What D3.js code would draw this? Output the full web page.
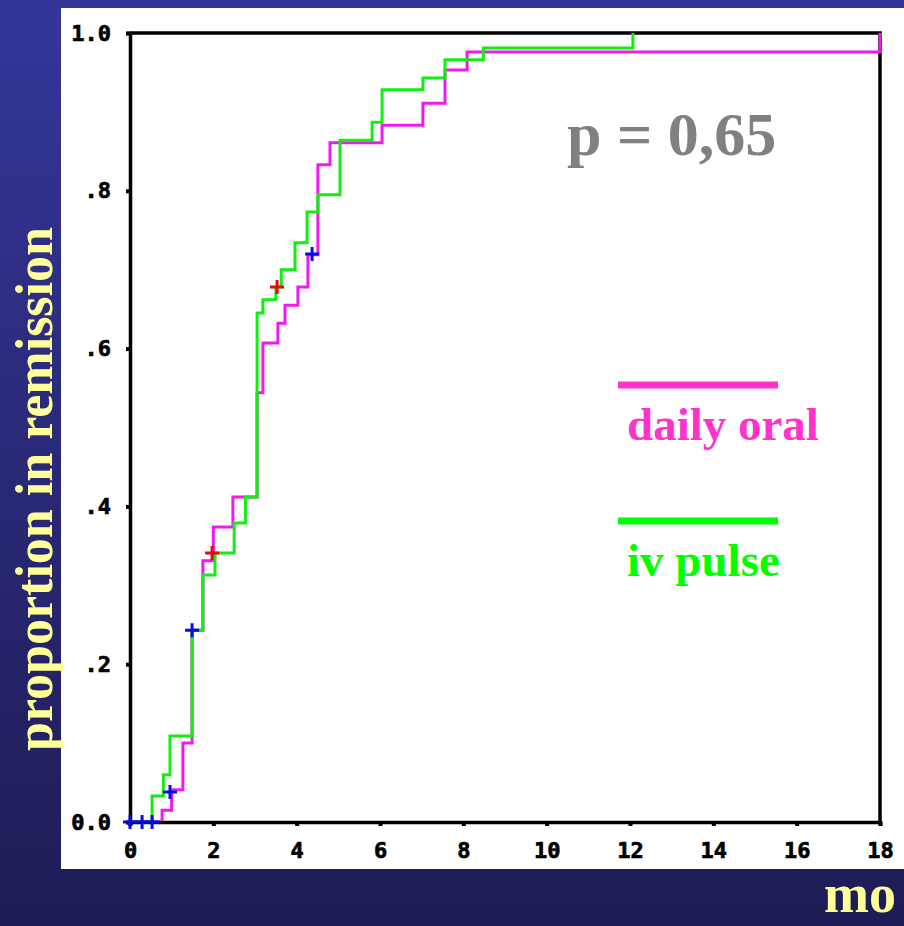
<!DOCTYPE html>
<html>
<head>
<meta charset="utf-8">
<script src="https://cdn.jsdelivr.net/npm/d3@7"></script>
<style>
  body { margin: 0; background: #1f1d57; }
  svg { display: block; }
</style>
</head>
<body>
<svg id="chart" width="904" height="926"></svg>
<script>
// Kaplan-Meier steps (months, proportion in remission)
const oralTimes = [0, 0.77, 1.0, 1.27, 1.49, 1.75, 2.0, 2.47, 3.05, 3.19, 3.55, 3.72, 4.03, 4.27, 4.51, 4.8, 6.05, 7.03, 7.56, 8.09, 18];
const oralRemission = [0, 0.015, 0.041, 0.10, 0.243, 0.331, 0.374, 0.412, 0.544, 0.607, 0.632, 0.655, 0.678, 0.719, 0.833, 0.861, 0.883, 0.911, 0.953, 0.976, 1.0];

const pulseTimes = [0, 0.53, 0.8, 0.96, 1.49, 1.75, 2.04, 2.5, 2.77, 3.05, 3.19, 3.5, 3.63, 3.96, 4.25, 4.51, 5.04, 5.81, 6.05, 7.03, 7.56, 8.48, 12.07];
const pulseRemission = [0, 0.033, 0.06, 0.109, 0.243, 0.313, 0.341, 0.379, 0.412, 0.645, 0.662, 0.678, 0.70, 0.734, 0.773, 0.795, 0.864, 0.887, 0.928, 0.943, 0.966, 0.981, 1.0];

// censored observations
const oralCensorTimes = [0, 0.29, 0.53, 0.96, 1.49, 4.37];
const oralCensorValues = [0, 0, 0, 0.038, 0.243, 0.72];
const pulseCensorTimes = [1.97, 3.53];
const pulseCensorValues = [0.341, 0.678];

const xTicks = [0, 2, 4, 6, 8, 10, 12, 14, 16, 18];
const yTicks = [0, 0.2, 0.4, 0.6, 0.8, 1.0];
const yTickLabels = ["0.0", ".2", ".4", ".6", ".8", "1.0"];

const seriesNames = ["daily oral", "iv pulse"];
const pValue = "p = 0,65";

const svg = d3.select("#chart");

// slide background
const defs = svg.append("defs");
const grad = defs.append("linearGradient").attr("id", "bg").attr("x1", 0).attr("y1", 0).attr("x2", 0).attr("y2", 1);
grad.append("stop").attr("offset", "0%").attr("stop-color", "#35369a");
grad.append("stop").attr("offset", "100%").attr("stop-color", "#1e1c55");
svg.append("rect").attr("width", 904).attr("height", 926).attr("fill", "url(#bg)");

// white picture panel
svg.append("rect").attr("x", 61).attr("y", 8).attr("width", 843).attr("height", 861).attr("fill", "#fff");

const x = d3.scaleLinear().domain([0, 18]).range([130, 880]);
const y = d3.scaleLinear().domain([0, 1]).range([822, 33]);

// top and right frame
svg.append("path")
  .attr("d", `M${x(0)},${y(1)}H${x(18)}V${y(0)}`)
  .attr("fill", "none").attr("stroke", "#000").attr("stroke-width", 3.5);

const step = d3.line()
  .x(d => x(d[0]))
  .y(d => y(d[1]))
  .curve(d3.curveStepAfter);

const oral = oralTimes.map((t, i) => [t, oralRemission[i]]);
const pulse = pulseTimes.map((t, i) => [t, pulseRemission[i]]);

svg.append("path").datum(oral)
  .attr("d", step).attr("fill", "none").attr("stroke", "#ee1aee").attr("stroke-width", 3);
svg.append("path").datum(pulse)
  .attr("d", step).attr("fill", "none").attr("stroke", "#11ee11").attr("stroke-width", 3);

// axes
const yAxis = svg.append("g")
  .attr("transform", `translate(${x(0)},0)`)
  .call(d3.axisLeft(y).tickValues(yTicks).tickFormat((d, i) => yTickLabels[i]).tickSize(4).tickPadding(15));
const xAxis = svg.append("g")
  .attr("transform", `translate(0,${y(0)})`)
  .call(d3.axisBottom(x).tickValues(xTicks).tickFormat(d3.format("d")).tickSize(4).tickPadding(16));

[yAxis, xAxis].forEach(g => {
  g.select(".domain").attr("stroke", "#000").attr("stroke-width", 3.5);
  g.selectAll(".tick line").attr("stroke", "#000").attr("stroke-width", 4);
  g.selectAll(".tick text")
    .attr("fill", "#000")
    .attr("stroke", "#000")
    .attr("stroke-width", 0.7)
    .style("font-family", "'DejaVu Sans Mono', monospace")
    .style("font-weight", "bold")
    .style("font-size", "22px");
});

// censor crosses
function crosses(times, values, color) {
  svg.append("g").selectAll("path")
    .data(times.map((t, i) => [t, values[i]]))
    .enter()
    .append("path")
    .attr("d", d => `M${x(d[0]) - 7},${y(d[1])}h14M${x(d[0])},${y(d[1]) - 7}v14`)
    .attr("stroke", color)
    .attr("stroke-width", 3);
}
crosses(oralCensorTimes, oralCensorValues, "#0a0ae6");
crosses(pulseCensorTimes, pulseCensorValues, "#e60a0a");

// p value
svg.append("text")
  .attr("x", 567).attr("y", 155)
  .attr("fill", "#808080")
  .style("font-family", "'Liberation Serif', serif")
  .style("font-weight", "bold")
  .style("font-size", "62px")
  .text(pValue);

// legend
const legendColors = ["#ff33cc", "#00ff00"];
const legendY = [385, 521];
seriesNames.forEach((name, i) => {
  svg.append("line")
    .attr("x1", 618).attr("x2", 778)
    .attr("y1", legendY[i]).attr("y2", legendY[i])
    .attr("stroke", legendColors[i]).attr("stroke-width", 7);
  svg.append("text")
    .attr("x", 627).attr("y", legendY[i] + 55)
    .attr("fill", legendColors[i])
    .style("font-family", "'Liberation Serif', serif")
    .style("font-weight", "bold")
    .style("font-size", "47px")
    .text(name);
});

// axis titles (slide text)
svg.append("text")
  .attr("transform", "translate(52,489) rotate(-90)")
  .attr("text-anchor", "middle")
  .attr("fill", "#ffff99")
  .style("font-family", "'Liberation Serif', serif")
  .style("font-weight", "bold")
  .style("font-size", "52px")
  .text("proportion in remission");

// only the start of the x title is visible on the slide
svg.append("text")
  .attr("x", 824).attr("y", 912)
  .attr("fill", "#ffff99")
  .style("font-family", "'Liberation Serif', serif")
  .style("font-weight", "bold")
  .style("font-size", "54px")
  .text("mo");
</script>
</body>
</html>
